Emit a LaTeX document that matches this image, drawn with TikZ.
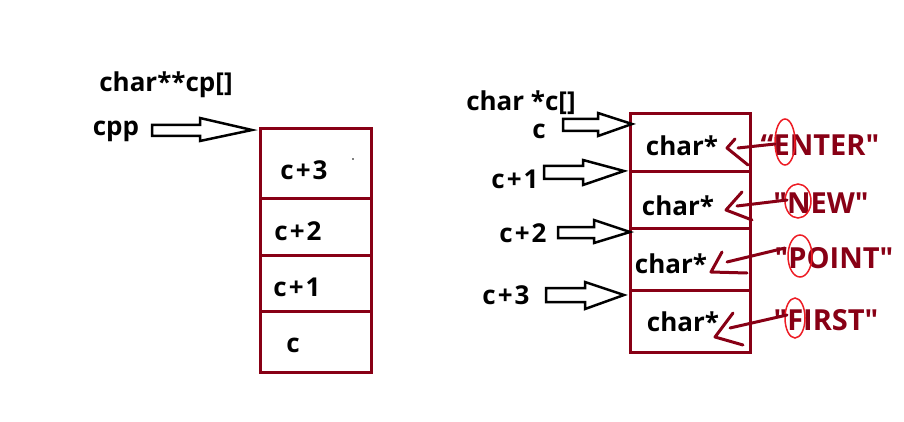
\documentclass[tikz,border=0pt]{standalone}
\usepackage{fontspec}
\newfontfamily\lblfont{Open Sans}
\usetikzlibrary{positioning}

\definecolor{boxred}{RGB}{136,0,21}
\definecolor{ringred}{RGB}{237,28,36}

\newcommand{\pl}{\kern2pt+\kern2pt}

\tikzset{
  lbl/.style={font=\lblfont\bfseries\fontsize{26}{30}\selectfont, inner sep=0pt},
  strlbl/.style={font=\lblfont\bfseries\fontsize{29}{33}\selectfont, inner sep=0pt, text=boxred},
  cellbox/.style={draw=boxred, line width=3pt},
  fatarrow/.style={draw=black, line width=2.5pt, line join=miter},
  handarrow/.style={draw=boxred, line width=3pt, line cap=round, line join=round},
  ringmark/.style={draw=ringred, line width=1.5pt}
}

\begin{document}
\begin{tikzpicture}[x=1pt, y=-1pt]
  \useasboundingbox (0,0) rectangle (904,422);

  % left: char **cp[]
  \node[lbl] (cpdecl) at (166,85) {char**cp[]};
  \node[lbl] (cpp) at (116,131) {cpp};

  \draw[cellbox] (260,129) rectangle (371,198);
  \draw[cellbox] (260,198) rectangle (371,255);
  \draw[cellbox] (260,255) rectangle (371,311);
  \draw[cellbox] (260,311) rectangle (371,372);
  \node[lbl] (lc3) at (304,170) {c\pl3};
  \node[lbl] (lc2) at (298,231) {c\pl2};
  \node[lbl] (lc1) at (297,287) {c\pl1};
  \node[lbl] (lc0) at (293,345) {c};
  \fill (353,159) circle (0.8pt);

  \coordinate (cptip) at (252,130);
  \draw[fatarrow] (152,125) -- (200,125) -- (200,118) -- (cptip)
    -- (200,141) -- (200,136) -- (152,136) -- cycle;

  % right: char *c[]
  \node[lbl] (cdecl) at (521,103) {char *c[]};
  \node[lbl] (rc0) at (539,131) {c};
  \node[lbl] (rc1) at (515,179) {c\pl1};
  \node[lbl] (rc2) at (523,233) {c\pl2};
  \node[lbl] (rc3) at (506,295) {c\pl3};

  \draw[cellbox] (630,114) rectangle (750,172);
  \draw[cellbox] (630,172) rectangle (750,228);
  \draw[cellbox] (630,228) rectangle (750,290);
  \draw[cellbox] (630,290) rectangle (750,352);
  \node[lbl] (p0) at (682,146) {char*};
  \node[lbl] (p1) at (678,206) {char*};
  \node[lbl] (p2) at (671,264) {char*};
  \node[lbl] (p3) at (683,322) {char*};

  \coordinate (t0) at (632,124);
  \coordinate (t1) at (624,171);
  \coordinate (t2) at (630,232);
  \coordinate (t3) at (624,295);
  \draw[fatarrow] (563,119) -- (598,119) -- (598,113) -- (t0)
    -- (598,136) -- (598,131) -- (563,131) -- cycle;
  \draw[fatarrow] (544,166) -- (583,166) -- (583,160) -- (t1)
    -- (583,185) -- (583,179) -- (544,179) -- cycle;
  \draw[fatarrow] (558,227) -- (594,227) -- (594,220) -- (t2)
    -- (594,243) -- (594,238) -- (558,238) -- cycle;
  \draw[fatarrow] (546,288) -- (585,288) -- (585,282) -- (t3)
    -- (585,309) -- (585,302) -- (546,302) -- cycle;

  % strings
  \node[strlbl] (enter) at (820,145) {“ENTER"};
  \node[strlbl] (new) at (821,203) {"NEW"};
  \node[strlbl] (point) at (834,258) {"POINT"};
  \node[strlbl] (first) at (826,320) {"FIRST"};

  \draw[ringmark] (785,142) ellipse (10 and 23);
  \draw[ringmark] (798,201) ellipse (13 and 17);
  \draw[ringmark] (800,256) ellipse (12 and 21);
  \draw[ringmark] (795,318) ellipse (10 and 20);

  \draw[handarrow] (775,144) -- (738,148);
  \draw[handarrow] (735,139) -- (727,148) -- (748,165);
  \draw[handarrow] (787,200) -- (737,206);
  \draw[handarrow] (742,192) -- (726,210) -- (752,220);
  \draw[handarrow] (785,248) -- (727,262);
  \draw[handarrow] (722,252) -- (711,272) -- (747,273);
  \draw[handarrow] (787,315) -- (730,328);
  \draw[handarrow] (733,313) -- (715,337) -- (743,345);
\end{tikzpicture}
\end{document}
